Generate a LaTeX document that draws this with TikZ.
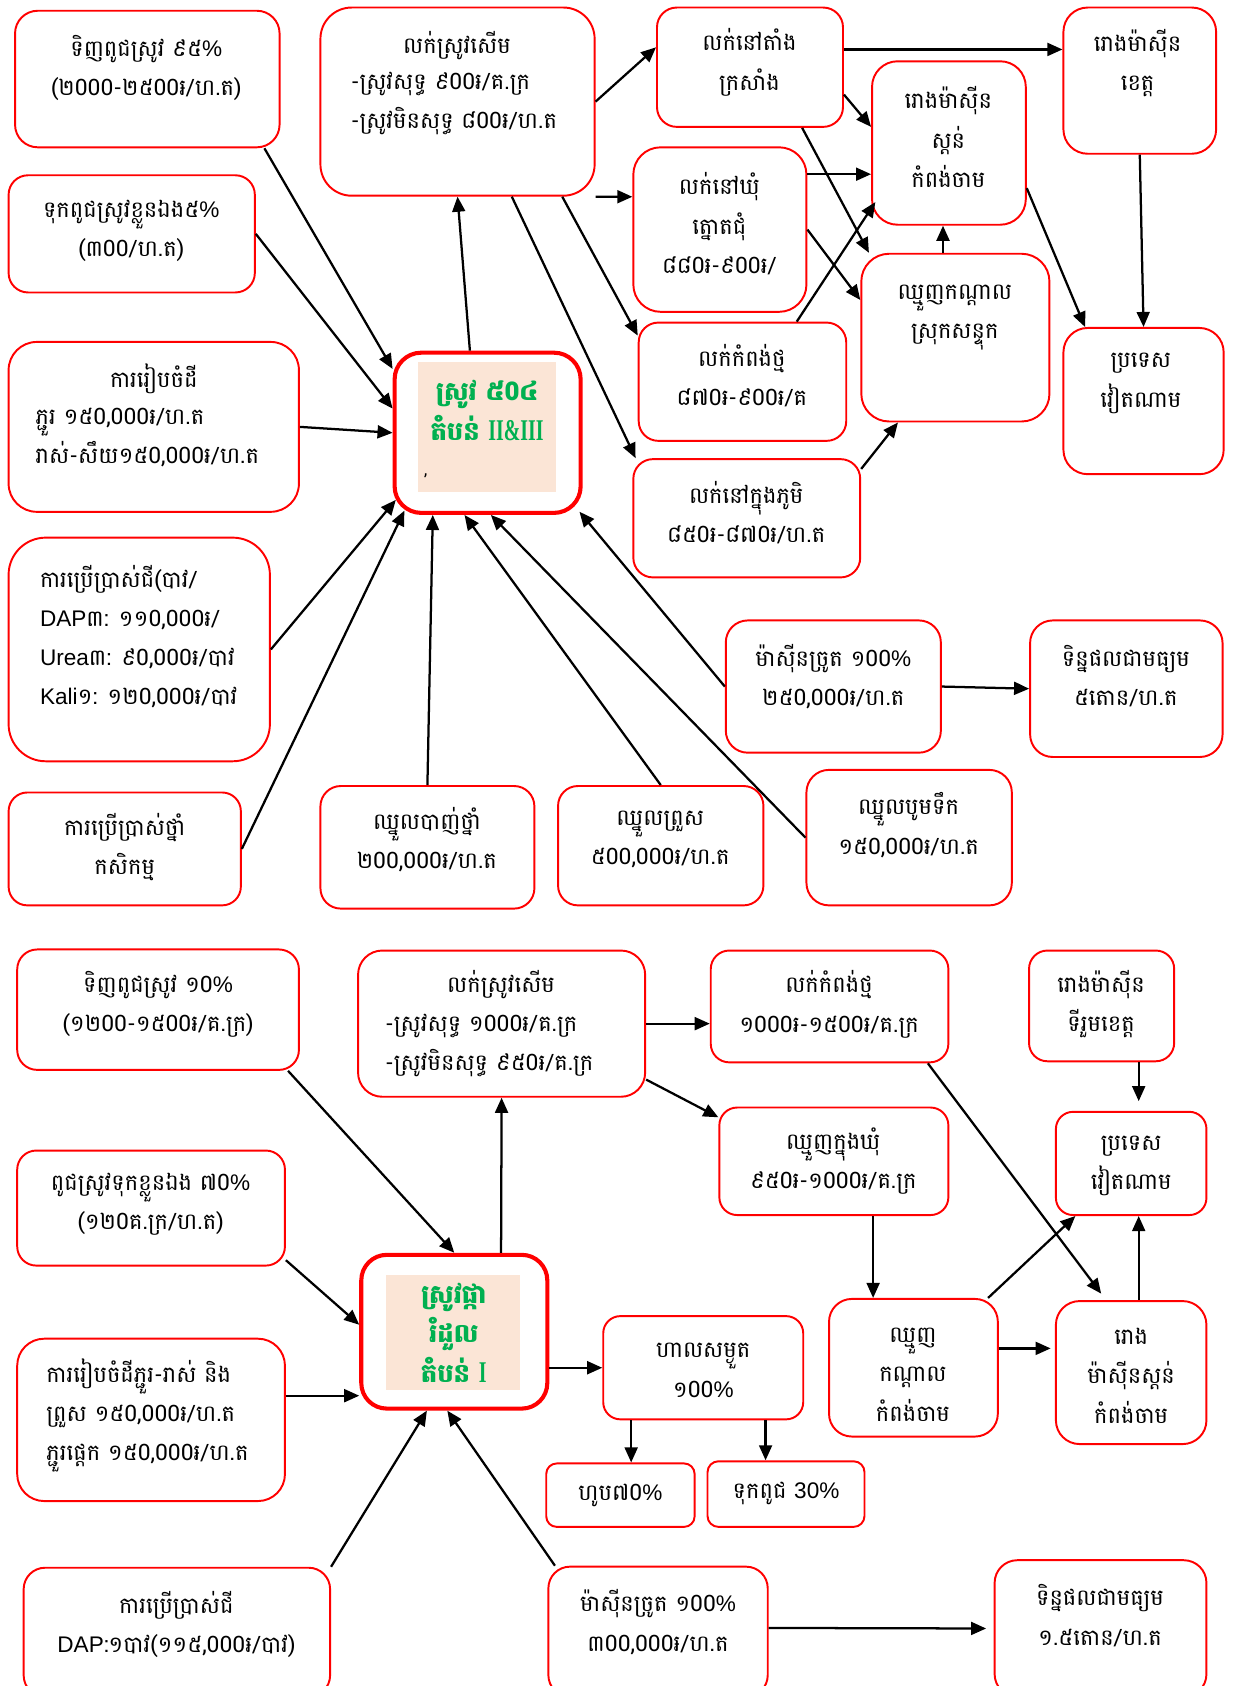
\documentclass[tikz,border=0pt]{standalone}
\usepackage{fontspec}
\setmainfont[Script=Khmer]{Battambang}
\newfontfamily\lat{Liberation Sans}
\newfontfamily\romf[BoldFont={Liberation Serif Bold}]{Liberation Serif}
\usetikzlibrary{arrows.meta,calc}
\definecolor{boxred}{RGB}{255,0,0}
\definecolor{kgreen}{RGB}{0,176,80}
\definecolor{beige}{RGB}{251,229,214}
\tikzset{
 box/.style={draw=boxred, line width=1.8pt, fill=white, inner sep=0pt},
 hub/.style={draw=boxred, line width=3.8pt, fill=white, inner sep=0pt},
 txt/.style={align=center, font=\fontsize{21}{36.5}\selectfont, inner sep=0pt},
 ltxt/.style={align=left, anchor=west, font=\fontsize{21}{36.5}\selectfont, inner sep=0pt},
 gtxt/.style={align=center, font=\fontsize{24}{37}\selectfont\bfseries, text=kgreen, inner sep=0pt},
 bg/.style={fill=beige, inner sep=0pt},
 arr/.style={line width=2.1pt, -{Triangle[length=14pt,width=12pt]}},
}
\newcommand\rom[1]{\scalebox{0.66}[1]{\romf\bfseries\fontsize{28}{37}\selectfont #1}}
\newcommand\bx[6][box]{%
 \pgfmathsetmacro\bw{#5-#3}%
 \pgfmathsetmacro\bh{#6-#4}%
 \pgfmathsetmacro\br{0.166*min(\bw,\bh)}%
 \node[#1, minimum width=\bw pt, minimum height=\bh pt, rounded corners=\br pt] (#2) at ({(#3+#5)/2},{(#4+#6)/2}) {};}
\begin{document}
\begin{tikzpicture}[x=1pt,y=-1pt]
\useasboundingbox (0,0) rectangle (1149,1568);
% ---------- top boxes
\bx{A1}{14}{10}{260}{137}
\bx{A2}{8}{163}{237}{272}
\bx{B1}{298}{7}{553}{182}
\bx{C1}{611}{7}{784}{118}
\bx{C2}{589}{137}{750}{290}
\bx{C3}{594}{300}{787}{410}
\bx{C4}{589}{427}{800}{537}
\bx{D1}{811}{57}{954}{209}
\bx{D2}{801}{236}{976}{392}
\bx{E1}{989}{7}{1131}{143}
\bx{E2}{989}{305}{1138}{441}
\bx[hub]{H}{367}{328}{540}{477}
\bx{F1}{8}{318}{278}{476}
\bx{F2}{8}{500}{251}{708}
\bx{F3}{8}{737}{224}{842}
\bx{G1}{298}{731}{497}{845}
\bx{G2}{519}{731}{710}{842}
\bx{G3}{750}{716}{941}{842}
\bx{M1}{675}{577}{875}{700}
\bx{M2}{958}{577}{1137}{704}
% ---------- bottom boxes
\bx{P1}{16}{883}{278}{995}
\bx{P2}{16}{1070}{265}{1177}
\bx{P3}{16}{1245}{265}{1396}
\bx{P4}{22}{1458}{307}{1578}
\bx[hub]{Q}{336}{1167}{509}{1310}
\bx{R1}{333}{884}{600}{1020}
\bx{R2}{661}{884}{882}{988}
\bx{R3}{669}{1030}{882}{1130}
\bx{R4}{957}{884}{1092}{987}
\bx{R5}{982}{1034}{1122}{1130}
\bx{S1}{561}{1224}{747}{1320}
\bx{S2}{771}{1208}{928}{1336}
\bx{S3}{982}{1210}{1122}{1343}
\bx{T1}{508}{1361}{646}{1420}
\bx{T2}{658}{1359}{804}{1420}
\bx{U1}{510}{1457}{714}{1578}
\bx{U2}{925}{1451}{1122}{1578}
% ---------- hub interiors
\node[bg, minimum width=128pt, minimum height=121pt] (Hbg) at (453,397.5) {};
\node[bg, minimum width=125pt, minimum height=107pt] (Qbg) at (421.5,1239.5) {};
% ---------- top texts
\node[txt] (A1t) at (136,63.5) {ទិញពូជស្រូវ ៩៥{\lat\%}\\(២000-២៥00៛/ហ.ត)};
\node[txt] (A2t) at (122,214.5) {ទុកពូជស្រូវខ្លួនឯង៥{\lat\%}\\(៣00/ហ.ត)};
\node[txt] (B1a) at (425,42) {លក់ស្រូវសើម};
\node[ltxt] (B1b) at (326,96.5) {-ស្រូវសុទ្ធ ៩00៛/គ.ក្រ\\-ស្រូវមិនសុទ្ធ ៨00៛/ហ.ត};
\node[txt] (C1t) at (697,58) {លក់នៅតាំង\\ក្រសាំង};
\node[txt] (C2t) at (669,208) {លក់នៅឃុំ\\ត្នោតជុំ\\៨៨0៛-៩00៛/};
\node[txt] (C3t) at (690,349.5) {លក់កំពង់ថ្ម\\៨៧0៛-៩00៛/គ};
\node[txt] (C4t) at (694,477) {លក់នៅក្នុងភូមិ\\៨៥0៛-៨៧0៛/ហ.ត};
\node[txt] (D1t) at (882,127.5) {រោងម៉ាស៊ីន\\ស្ដន់\\កំពង់ចាម};
\node[txt] (D2t) at (888,295) {ឈ្មួញកណ្ដាល\\ស្រុកសន្ទុក};
\node[txt] (E1t) at (1058,58.5) {រោងម៉ាស៊ីន\\ខេត្ត};
\node[txt] (E2t) at (1061,356.5) {ប្រទេស\\វៀតណាម};
\node[gtxt] (Ht) at (453,381.5) {ស្រូវ ៥0៤\\តំបន់ \rom{II\&III}};
\node[font=\fontsize{15}{15}\selectfont, inner sep=0pt] (Hc) at (396,443) {,};
\node[txt] (F1a) at (143,352) {ការរៀបចំដី};
\node[ltxt] (F1b) at (33,407) {ភ្ជួរ ១៥0,000៛/ហ.ត\\រាស់-សឹយ១៥0,000៛/ហ.ត};
\node[ltxt] (F2t) at (37,592) {ការប្រើប្រាស់ជី(បាវ/\\{\lat DAP}៣: ១១0,000៛/\\{\lat Urea}៣: ៩0,000៛/បាវ\\{\lat Kali}១: ១២0,000៛/បាវ};
\node[txt] (F3t) at (116,787.5) {ការប្រើប្រាស់ថ្នាំ\\កសិកម្ម};
\node[txt] (G1t) at (397,781) {ឈ្នួលបាញ់ថ្នាំ\\២00,000៛/ហ.ត};
\node[txt] (G2t) at (614,781) {ឈ្នួលព្រួស\\៥00,000៛/ហ.ត};
\node[txt] (G3t) at (845,767.5) {ឈ្នួលបូមទឹក\\១៥0,000៛/ហ.ត};
\node[txt] (M1t) at (775,629) {ម៉ាស៊ីនច្រូត ១00{\lat\%}\\២៥0,000៛/ហ.ត};
\node[txt] (M2t) at (1047,629) {ទិន្នផលជាមធ្យម\\៥តោន/ហ.ត};
% ---------- bottom texts
\node[txt] (P1t) at (147,934) {ទិញពូជស្រូវ ១0{\lat\%}\\(១២00-១៥00៛/គ.ក្រ)};
\node[txt] (P2t) at (140,1120) {ពូជស្រូវទុកខ្លួនឯង ៧0{\lat\%}\\(១២0គ.ក្រ/ហ.ត)};
\node[ltxt] (P3t) at (43,1316.5) {ការរៀបចំដីភ្ជួរ-រាស់ និង\\ព្រួស ១៥0,000៛/ហ.ត\\ភ្ជួរផ្ដេក ១៥0,000៛/ហ.ត};
\node[txt] (P4t) at (164,1510.5) {ការប្រើប្រាស់ជី\\{\lat DAP}:១បាវ(១១៥,000៛/បាវ)};
\node[gtxt] (Qt) at (422,1239.5) {ស្រូវផ្កា\\រំដួល\\តំបន់ \rom{I}};
\node[txt] (R1a) at (466,916) {លក់ស្រូវសើម};
\node[ltxt] (R1b) at (358,972) {-ស្រូវសុទ្ធ ១000៛/គ.ក្រ\\-ស្រូវមិនសុទ្ធ ៩៥0៛/គ.ក្រ};
\node[txt] (R2t) at (771,934) {លក់កំពង់ថ្ម\\១000៛-១៥00៛/គ.ក្រ};
\node[txt] (R3t) at (775,1080) {ឈ្មួញក្នុងឃុំ\\៩៥0៛-១000៛/គ.ក្រ};
\node[txt] (R4t) at (1024,934) {រោងម៉ាស៊ីន\\ទីរួមខេត្ត};
\node[txt] (R5t) at (1052,1084) {ប្រទេស\\វៀតណាម};
\node[txt] (S1t) at (654,1274.5) {ហាលសម្ងួត\\១00{\lat\%}};
\node[txt] (S2t) at (849,1278.5) {ឈ្មួញ\\កណ្ដាល\\កំពង់ចាម};
\node[txt] (S3t) at (1052,1279.5) {រោង\\ម៉ាស៊ីនស្ដន់\\កំពង់ចាម};
\node[txt] (T1t) at (577,1391) {ហូប៧0{\lat\%}};
\node[txt] (T2t) at (731,1389) {ទុកពូជ {\lat 30\%}};
\node[txt] (U1t) at (612,1508.5) {ម៉ាស៊ីនច្រូត ១00{\lat\%}\\៣00,000៛/ហ.ត};
\node[txt] (U2t) at (1023,1502.5) {ទិន្នផលជាមធ្យម\\១.៥តោន/ហ.ត};
% ---------- top connectors
\draw[arr] ([xshift=-15pt]A1.south east) -- ([yshift=-17pt]H.north west);
\draw[arr] (A2.east) -- ([yshift=22.5pt]H.west);
\draw[arr] (F1.east) -- (H.west);
\draw[arr] (F2.east) -- ([xshift=3pt,yshift=14pt]H.south west);
\draw[arr] (F3.east) -- ([xshift=11pt,yshift=4pt]H.south west);
\draw[arr] (G1.north) -- ([xshift=-51pt]H.south);
\draw[arr] (G2.north) -- ([xshift=-21.5pt]H.south);
\draw[arr] (G3.west) -- ([xshift=3pt]H.south);
\draw[arr] (M1.west) -- ([xshift=-3pt,yshift=3pt]H.south east);
\draw[arr] (M1.east) -- (M2.west);
\draw[arr] ([xshift=-16.5pt]H.north) -- (B1.south);
\draw[arr] (B1.east) -- ([yshift=18.5pt]C1.west);
\draw[arr] (B1.south east) -- ([yshift=30.5pt]C2.west);
\draw[arr] ([xshift=-31pt]B1.south east) -- ([yshift=-13pt]C3.north west);
\draw[arr] ([xshift=50.5pt]B1.south) -- ([xshift=3pt]C4.north west);
\draw[arr] ([yshift=16.5pt]C1.east) -- ([yshift=29pt]E1.west);
\draw[arr] ([yshift=-25.5pt]C1.east) -- ([yshift=15pt]D1.west);
\draw[arr] ([xshift=48.5pt]C1.south) -- ([xshift=8pt]D2.north west);
\draw[arr] ([yshift=51.5pt]C2.east) -- ([yshift=-29pt]D1.west);
\draw[arr] (C2.east) -- ([yshift=35pt]D2.west);
\draw[arr] ([xshift=50.5pt]C3.north) -- ([xshift=4pt,yshift=22pt]D1.south west);
\draw[arr] ([yshift=-10pt]C4.north east) -- ([xshift=35pt]D2.south west);
\draw[arr] ([xshift=-11.5pt]D2.north) -- ([xshift=-5.5pt]D1.south);
\draw[arr] ([yshift=-42pt]D1.east) -- ([xshift=21pt]E2.north west);
\draw[arr] (E1.south) -- (E2.north);
% ---------- bottom connectors
\draw[arr] ([xshift=-11pt]P1.south east) -- (Q.north);
\draw[arr] ([yshift=-48.5pt]P2.east) -- ([yshift=6.5pt]Q.west);
\draw[arr] ([yshift=22.5pt]P3.east) -- ([yshift=-59.5pt]Q.west);
\draw[arr] (P4.north east) -- ([xshift=-25.5pt]Q.south);
\draw[arr] ([xshift=7pt]U1.north west) -- ([xshift=-6.5pt]Q.south);
\draw[arr] ([xshift=43.5pt]Q.north) -- (R1.south);
\draw[arr] ([yshift=-33.5pt]Q.east) -- (S1.west);
\draw[arr] (R1.east) -- ([yshift=-16pt]R2.west);
\draw[arr] ([yshift=-52pt]R1.east) -- ([yshift=-10pt]R3.north west);
\draw[arr] ([xshift=-20pt]R2.south east) -- ([xshift=43pt,yshift=6pt]S3.north west);
\draw[arr] ([xshift=36.5pt]R3.south) -- ([xshift=-37.5pt]S2.north);
\draw[arr] ([xshift=34.5pt]R4.south) -- ([xshift=7pt,yshift=9pt]R5.north);
\draw[arr] ([xshift=-10pt]S2.north east) -- ([xshift=19pt]R5.south west);
\draw[arr] ([yshift=18pt]S2.east) -- ([xshift=-4pt,yshift=22.5pt]S3.west);
\draw[arr] ([xshift=7pt]S3.north) -- ([xshift=7pt]R5.south);
\draw[arr] ([xshift=-67pt]S1.south) -- ([xshift=10pt]T1.north);
\draw[arr] ([xshift=58pt]S1.south) -- ([xshift=-19pt]T2.north);
\draw[arr] ([yshift=3.5pt]U1.east) -- ([xshift=-7pt]U2.west);
\end{tikzpicture}
\end{document}
